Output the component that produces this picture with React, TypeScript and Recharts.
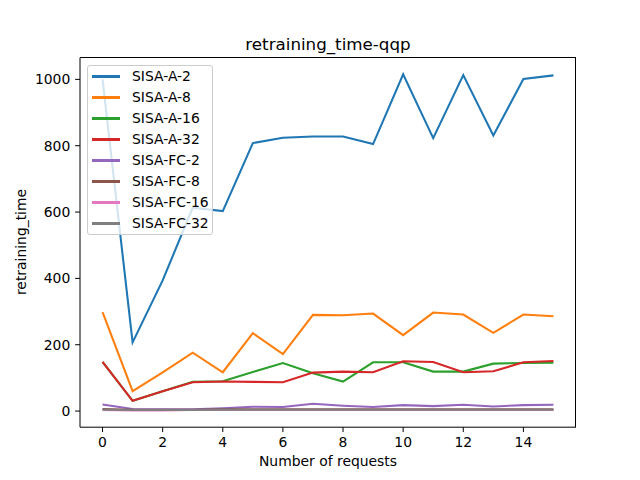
import React from "react";
import {
  LineChart,
  Line,
  XAxis,
  YAxis,
  Legend,
} from "recharts";

const requests = [0, 1, 2, 3, 4, 5, 6, 7, 8, 9, 10, 11, 12, 13, 14, 15];
const sisaA2 = [1000, 207, 394, 613, 603, 808, 824, 828, 828, 805, 1015, 823, 1013, 831, 1001, 1012];
const sisaA8 = [298, 60, 117, 176, 117, 235, 172, 290, 289, 294, 229, 297, 291, 236, 291, 286];
const sisaA16 = [148, 31, 60, 88, 90, 118, 145, 114, 89, 147, 147, 119, 119, 143, 145, 146];
const sisaA32 = [148, 31, 60, 87, 89, 88, 87, 116, 119, 117, 150, 148, 117, 120, 147, 151];
const sisaFC2 = [20, 6, 5, 5, 8, 13, 12, 22, 16, 12, 18, 15, 19, 14, 18, 19];
const sisaFC8 = [6, 4, 4, 4, 5, 5, 5, 5, 5, 5, 5, 5, 5, 5, 5, 5];
const sisaFC16 = [3, 2, 2, 3, 3, 3, 3, 3, 3, 3, 3, 3, 3, 3, 3, 3];
const sisaFC32 = [4, 3, 3, 3, 4, 4, 4, 4, 4, 4, 4, 4, 4, 4, 4, 4];

const xTicks = [0, 2, 4, 6, 8, 10, 12, 14];
const yTicks = [0, 200, 400, 600, 800, 1000];

const series = [
  { key: "a2", name: "SISA-A-2", values: sisaA2, color: "#1f77b4" },
  { key: "a8", name: "SISA-A-8", values: sisaA8, color: "#ff7f0e" },
  { key: "a16", name: "SISA-A-16", values: sisaA16, color: "#2ca02c" },
  { key: "a32", name: "SISA-A-32", values: sisaA32, color: "#d62728" },
  { key: "fc2", name: "SISA-FC-2", values: sisaFC2, color: "#9467bd" },
  { key: "fc8", name: "SISA-FC-8", values: sisaFC8, color: "#8c564b" },
  { key: "fc16", name: "SISA-FC-16", values: sisaFC16, color: "#e377c2" },
  { key: "fc32", name: "SISA-FC-32", values: sisaFC32, color: "#7f7f7f" },
];

const data = requests.map((r, i) => {
  const row: Record<string, number> = { x: r };
  series.forEach((s) => (row[s.key] = s.values[i]));
  return row;
});

// matplotlib-like 5% margins
const xMin = Math.min(...requests);
const xMax = Math.max(...requests);
const xPad = (xMax - xMin) * 0.05;
const allY = series.flatMap((s) => s.values);
const yMin = Math.min(...allY);
const yMax = Math.max(...allY);
const yPad = (yMax - yMin) * 0.05;
const xDomain = [xMin - xPad, xMax + xPad];
const yDomain = [yMin - yPad, yMax + yPad];

const font = "'DejaVu Sans', sans-serif";
const fs = 13.9;

function renderLegend() {
  return (
    <div
      style={{
        width: 124,
        height: 168,
        border: "1px solid #cccccc",
        borderRadius: 3,
        background: "rgba(255,255,255,0.8)",
        fontFamily: font,
        fontSize: fs,
        color: "#000",
        boxSizing: "content-box",
      }}
    >
      {series.map((s) => (
        <div
          key={s.key}
          style={{ height: 21, display: "flex", alignItems: "center" }}
        >
          <div
            style={{
              marginLeft: 4,
              width: 28,
              height: 2.1,
              background: s.color,
            }}
          />
          <span style={{ marginLeft: 12, lineHeight: 1, whiteSpace: "nowrap" }}>
            {s.name}
          </span>
        </div>
      ))}
    </div>
  );
}

export default function App() {
  const tick = { fill: "#000", fontSize: fs, fontFamily: font };
  return (
    <div
      style={{
        position: "absolute",
        left: 0,
        top: 0,
        width: 640,
        height: 480,
        background: "#fff",
      }}
    >
      <LineChart
        width={640}
        height={480}
        data={data}
        margin={{ top: 57.6, right: 64, bottom: 0, left: 0 }}
      >
        <XAxis
          dataKey="x"
          type="number"
          domain={xDomain}
          ticks={xTicks}
          height={52.8}
          stroke="#000"
          tick={tick}
          tickSize={4.86}
          tickMargin={4.86}
          allowDataOverflow
        />
        <YAxis
          type="number"
          domain={yDomain}
          ticks={yTicks}
          width={80}
          stroke="#000"
          tick={tick}
          tickSize={4.86}
          tickMargin={4.86}
          allowDataOverflow
        />
        <Legend
          content={renderLegend}
          layout="vertical"
          align="center"
          verticalAlign="middle"
          wrapperStyle={{ left: 87, top: 65, width: "auto" }}
        />
        {series.map((s) => (
          <Line
            key={s.key}
            dataKey={s.key}
            name={s.name}
            type="linear"
            stroke={s.color}
            strokeWidth={2.08}
            dot={false}
            activeDot={false}
            isAnimationActive={false}
          />
        ))}
      </LineChart>
      {/* top and right spines */}
      <div
        style={{
          position: "absolute",
          left: 80,
          top: 57.1,
          width: 496,
          height: 370,
          borderTop: "1px solid #000",
          borderRight: "1px solid #000",
          boxSizing: "border-box",
          pointerEvents: "none",
        }}
      />
      <div
        style={{
          position: "absolute",
          left: 80,
          width: 496,
          top: 35.9,
          textAlign: "center",
          fontFamily: font,
          fontSize: 16.7,
          lineHeight: 1,
          color: "#000",
          whiteSpace: "nowrap",
        }}
      >
        retraining_time-qqp
      </div>
      <div
        style={{
          position: "absolute",
          left: 80,
          width: 496,
          top: 455.2,
          textAlign: "center",
          fontFamily: font,
          fontSize: fs,
          lineHeight: 1,
          color: "#000",
          whiteSpace: "nowrap",
        }}
      >
        Number of requests
      </div>
      <div
        style={{
          position: "absolute",
          left: 22,
          top: 242,
          transform: "translate(-50%, -50%) rotate(-90deg)",
          fontFamily: font,
          fontSize: fs,
          lineHeight: 1,
          color: "#000",
          whiteSpace: "nowrap",
        }}
      >
        retraining_time
      </div>
    </div>
  );
}
